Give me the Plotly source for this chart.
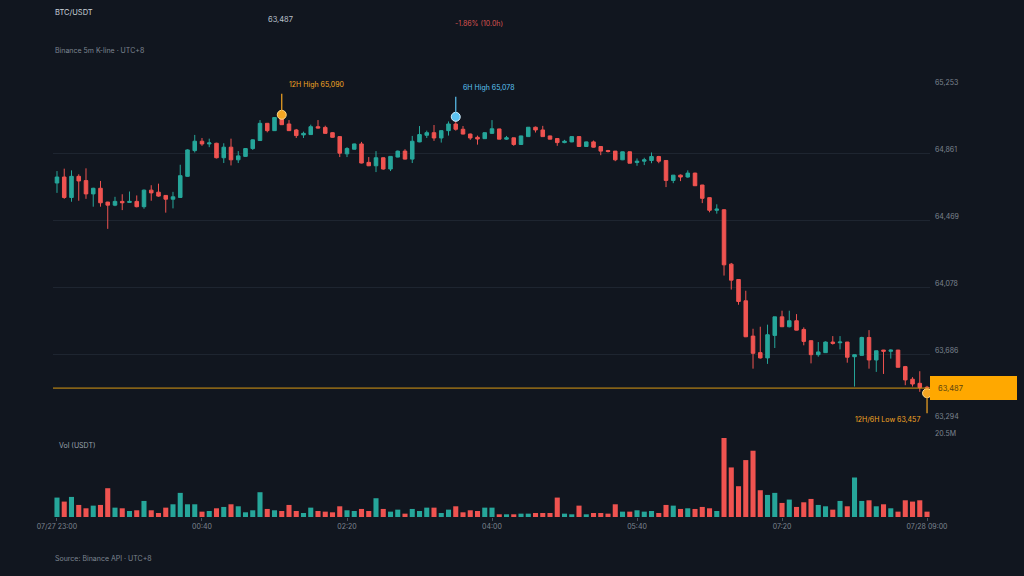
import pandas as pd
import plotly.graph_objects as go

# ---------------- data (5m candles, UTC+8) ----------------
start_time = "2024-07-27 23:00"
n_candles = 121

opens = [64690, 64725, 64605, 64729, 64704, 64626, 64659, 64578, 64560, 64582,
         64576, 64582, 64551, 64648, 64636, 64617, 64595, 64605, 64729, 64880,
         64935, 64919, 64923, 64838, 64900, 64826, 64846, 64892, 64939, 65040,
         64997, 65071, 65036, 65001, 64972, 64974, 65020, 65016, 64985, 64962,
         64861, 64888, 64919, 64811, 64791, 64838, 64772, 64842, 64877, 64830,
         64931, 64970, 64985, 64954, 64997, 65036, 65005, 64977, 64958, 64950,
         64981, 65007, 64947, 64955, 64916, 64962, 65017, 65001, 64966, 64951,
         64927, 64931, 64962, 64904, 64931, 64904, 64880, 64877, 64826, 64873,
         64810, 64818, 64822, 64845, 64822, 64705, 64736, 64725, 64748, 64678,
         64604, 64530, 64533, 64214, 64124, 63999, 63792, 63695, 63664, 63796,
         63905, 63847, 63882, 63831, 63765, 63683, 63695, 63757, 63753, 63757,
         63671, 63679, 63784, 63652, 63710, 63703, 63710, 63613, 63539, 63515,
         63492]
highs = [64760, 64774, 64764, 64741, 64776, 64662, 64702, 64580, 64609, 64624,
         64640, 64617, 64652, 64677, 64686, 64619, 64638, 64797, 64888, 64972,
         64954, 64950, 64926, 64923, 64950, 64877, 64894, 64946, 65059, 65042,
         65076, 65090, 65059, 65007, 64991, 65032, 65059, 65026, 64987, 64964,
         64900, 64921, 64931, 64842, 64877, 64840, 64847, 64880, 64888, 64966,
         65024, 64997, 65030, 64999, 65051, 65078, 65024, 64980, 64968, 64987,
         65059, 65008, 64966, 64956, 64967, 65018, 65021, 65025, 64967, 64952,
         64943, 64963, 64964, 64933, 64939, 64905, 64884, 64878, 64874, 64875,
         64834, 64838, 64869, 64849, 64824, 64737, 64740, 64764, 64750, 64679,
         64605, 64565, 64536, 64221, 64125, 64058, 63835, 63847, 63859, 63905,
         63941, 63941, 63921, 63843, 63766, 63757, 63761, 63792, 63792, 63758,
         63683, 63788, 63827, 63707, 63711, 63714, 63711, 63617, 63551, 63586,
         63500]
lows = [64632, 64597, 64580, 64586, 64597, 64551, 64551, 64421, 64554, 64531,
        64574, 64547, 64539, 64586, 64609, 64516, 64541, 64603, 64727, 64869,
        64908, 64900, 64834, 64807, 64793, 64807, 64844, 64884, 64937, 64987,
        64995, 65030, 64995, 64954, 64954, 64972, 65010, 64979, 64956, 64842,
        64842, 64886, 64805, 64789, 64754, 64768, 64760, 64840, 64828, 64807,
        64929, 64954, 64937, 64927, 64968, 64997, 64975, 64943, 64915, 64948,
        64979, 64947, 64943, 64908, 64914, 64960, 64986, 64961, 64946, 64908,
        64923, 64929, 64902, 64902, 64898, 64853, 64869, 64818, 64824, 64806,
        64791, 64795, 64806, 64806, 64666, 64689, 64701, 64721, 64673, 64572,
        64518, 64510, 64147, 64065, 63976, 63786, 63601, 63660, 63629, 63722,
        63845, 63843, 63826, 63738, 63632, 63671, 63694, 63742, 63714, 63636,
        63496, 63678, 63601, 63582, 63570, 63660, 63609, 63504, 63496, 63465,
        63457]
closes = [64725, 64605, 64729, 64702, 64626, 64659, 64574, 64560, 64582, 64574,
          64582, 64551, 64648, 64632, 64613, 64595, 64609, 64733, 64884, 64935,
          64919, 64925, 64838, 64900, 64826, 64849, 64892, 64943, 65040, 64997,
          65074, 65032, 64997, 64968, 64981, 65020, 65012, 64981, 64958, 64865,
          64892, 64919, 64807, 64791, 64838, 64772, 64846, 64877, 64830, 64935,
          64974, 64985, 64954, 64997, 65036, 65005, 64977, 64954, 64948, 64985,
          65008, 64947, 64955, 64916, 64966, 65017, 65001, 64962, 64947, 64927,
          64935, 64962, 64904, 64931, 64900, 64877, 64875, 64826, 64873, 64806,
          64818, 64826, 64845, 64818, 64705, 64736, 64725, 64748, 64674, 64600,
          64530, 64537, 64210, 64120, 63995, 63788, 63691, 63664, 63800, 63905,
          63847, 63882, 63827, 63761, 63683, 63699, 63757, 63749, 63757, 63668,
          63683, 63784, 63652, 63706, 63703, 63710, 63609, 63535, 63511, 63490,
          63487]
volumes_m = [5.04, 4.00, 5.21, 3.13, 2.26, 2.95, 3.13, 7.47, 2.43, 2.26,
             1.56, 1.74, 4.17, 1.74, 1.04, 2.43, 3.30, 6.26, 3.30, 3.30,
             1.39, 1.56, 2.26, 2.61, 3.30, 2.78, 1.22, 1.74, 6.43, 2.09,
             1.74, 1.56, 3.13, 1.56, 1.04, 2.43, 1.56, 1.39, 1.22, 2.78,
             1.74, 1.56, 2.09, 1.56, 4.87, 2.09, 1.39, 1.91, 0.87, 2.09,
             1.56, 2.43, 2.43, 1.04, 1.91, 2.78, 1.22, 1.74, 1.56, 2.43,
             2.43, 0.70, 0.70, 0.70, 0.87, 0.87, 1.04, 1.04, 1.04, 5.04,
             0.87, 0.70, 2.95, 0.70, 1.04, 1.04, 0.87, 3.30, 1.39, 1.39,
             1.74, 1.39, 1.56, 1.04, 3.13, 2.95, 2.09, 2.26, 2.09, 2.61,
             2.26, 1.56, 20.5, 12.86, 7.99, 14.77, 17.2, 6.95, 5.73, 6.26,
             3.65, 4.52, 2.61, 3.82, 4.69, 3.13, 2.78, 1.91, 4.17, 2.78,
             10.25, 4.17, 4.34, 2.78, 3.30, 2.26, 1.39, 4.34, 4.00, 4.34,
             1.39]

price_ticks = [63294, 63686, 64078, 64469, 64861, 65253]
price_tick_text = ["63,294", "63,686", "64,078", "64,469", "64,861", "65,253"]
vol_max_m = 20.5
x_tick_labels = ["07/27 23:00", "00:40", "02:20", "04:00", "05:40", "07:20", "07/28 09:00"]
x_tick_every = 20  # candles

high12_idx, high12_val = 31, 65090
high6_idx, high6_val = 55, 65078
low_idx, low_val = 120, 63457
last_price = 63487
change_text = "-1.86% (10.0h)"

# ---------------- styling ----------------
BG = "#11161f"
GRID = "#1e2530"
TXT = "#7d8590"
UP = "#26a69a"
DOWN = "#ef5350"
ORANGE = "#f5a623"
BLUE = "#5cc2f2"
FONT = "Inter"
W, H = 1024, 576

times = pd.date_range(start_time, periods=n_candles, freq="5min")
step = pd.Timedelta(minutes=5)
vol_colors = [UP if c >= o else DOWN for o, c in zip(opens, closes)]
volumes = [v * 1e6 for v in volumes_m]


def px_x(p):
    return p / W


def px_y(p):
    return 1 - p / H


fig = go.Figure()
fig.add_trace(go.Candlestick(
    x=times, open=opens, high=highs, low=lows, close=closes,
    increasing=dict(line=dict(color=UP, width=1), fillcolor=UP),
    decreasing=dict(line=dict(color=DOWN, width=1), fillcolor=DOWN),
    whiskerwidth=0, hoverinfo="skip", xaxis="x", yaxis="y", showlegend=False,
))
fig.add_trace(go.Bar(
    x=times, y=volumes, marker=dict(color=vol_colors, line=dict(width=0)),
    hoverinfo="skip", xaxis="x2", yaxis="y2", showlegend=False,
))
# extreme markers
fig.add_trace(go.Scatter(
    x=[times[high12_idx], times[low_idx]], y=[high12_val, low_val], mode="markers",
    marker=dict(color=ORANGE, size=9, line=dict(color="#ffd98a", width=1)),
    hoverinfo="skip", showlegend=False, xaxis="x", yaxis="y", cliponaxis=False,
))
fig.add_trace(go.Scatter(
    x=[times[high6_idx]], y=[high6_val], mode="markers",
    marker=dict(color=BLUE, size=9, line=dict(color="#d8f1ff", width=1)),
    hoverinfo="skip", showlegend=False, xaxis="x", yaxis="y", cliponaxis=False,
))

x_range = [times[0] - 0.55 * step, times[-1] + 0.41 * step]
tick_vals = [times[i] for i in range(0, n_candles, x_tick_every)]

fig.update_layout(
    width=W, height=H,
    paper_bgcolor=BG, plot_bgcolor=BG,
    margin=dict(l=0, r=0, t=0, b=0, autoexpand=False),
    font=dict(family=FONT, size=7, color=TXT),
    bargap=0.3, boxgap=0.3,
    xaxis=dict(domain=[px_x(53), px_x(930)], range=x_range, anchor="y",
               showticklabels=False, showgrid=False, zeroline=False, automargin=False,
               rangeslider=dict(visible=False), matches="x2"),
    yaxis=dict(domain=[px_y(421), px_y(87)], range=[price_ticks[0], price_ticks[-1]],
               side="right", tickvals=price_ticks, ticktext=price_tick_text,
               showgrid=True, gridcolor=GRID, gridwidth=1, zeroline=False,
               ticks="", ticklabelstandoff=4, ticklabelshift=-4, automargin=False,
               tickfont=dict(size=7, color=TXT)),
    xaxis2=dict(domain=[px_x(53), px_x(930)], range=x_range, anchor="y2",
                tickvals=tick_vals, ticktext=x_tick_labels, showgrid=False,
                zeroline=False, ticks="outside", ticklen=3, tickcolor="#4a525e",
                tickfont=dict(size=7, color=TXT), showline=False, automargin=False),
    yaxis2=dict(domain=[px_y(517), px_y(438)], range=[0, vol_max_m * 1e6],
                side="right", tickvals=[vol_max_m * 1e6], ticktext=[f"{vol_max_m}M"],
                showgrid=True, gridcolor=GRID, zeroline=False, ticks="",
                ticklabelstandoff=4, ticklabelshift=-4, automargin=False,
                tickfont=dict(size=7, color=TXT)),
)

shapes = [
    # last price line
    dict(type="line", xref="paper", yref="y", x0=px_x(53), x1=px_x(930),
         y0=last_price, y1=last_price, line=dict(color="#d99a12", width=1)),
    # last price tag
    dict(type="rect", xref="paper", yref="y", ysizemode="pixel", yanchor=last_price,
         x0=px_x(930), x1=px_x(1017), y0=-12, y1=12, fillcolor="#ffa800",
         line=dict(width=0)),
    # stems
    dict(type="line", xref="x", yref="y", ysizemode="pixel", yanchor=high12_val,
         x0=times[high12_idx], x1=times[high12_idx], y0=0, y1=21,
         line=dict(color=ORANGE, width=1.2)),
    dict(type="line", xref="x", yref="y", ysizemode="pixel", yanchor=high6_val,
         x0=times[high6_idx], x1=times[high6_idx], y0=0, y1=20,
         line=dict(color=BLUE, width=1.2)),
    dict(type="line", xref="x", yref="y", ysizemode="pixel", yanchor=low_val,
         x0=times[low_idx], x1=times[low_idx], y0=0, y1=-20,
         line=dict(color=ORANGE, width=1.2)),
]
fig.update_layout(shapes=shapes)

ann = [
    dict(xref="paper", yref="paper", x=px_x(53), y=px_y(13), text="BTC/USDT",
         font=dict(size=7.5, color="#c9d1d9")),
    dict(xref="paper", yref="paper", x=px_x(266), y=px_y(19), text=f"{last_price:,}",
         font=dict(size=7.5, color="#b8c0ca")),
    dict(xref="paper", yref="paper", x=px_x(453), y=px_y(24), text=change_text,
         font=dict(size=7, color="#d9534f")),
    dict(xref="paper", yref="paper", x=px_x(53), y=px_y(51), text="Binance 5m K-line · UTC+8",
         font=dict(size=7, color=TXT)),
    dict(xref="paper", yref="paper", x=px_x(53), y=px_y(558), text="Source: Binance API · UTC+8",
         font=dict(size=7, color=TXT)),
    dict(xref="paper", yref="paper", x=px_x(57), y=px_y(445), text="Vol (USDT)",
         font=dict(size=7, color="#9aa3ad")),
    dict(xref="x", yref="y", x=times[high12_idx], y=high12_val, text=f"12H High {high12_val:,}",
         xshift=5, yshift=30, font=dict(size=7, color=ORANGE)),
    dict(xref="x", yref="y", x=times[high6_idx], y=high6_val, text=f"6H High {high6_val:,}",
         xshift=5, yshift=29, font=dict(size=7, color=BLUE)),
    dict(xref="x", yref="y", x=times[low_idx], y=low_val, text=f"12H/6H Low {low_val:,}",
         xshift=-5, yshift=-26, xanchor="right", font=dict(size=7, color=ORANGE)),
    dict(xref="paper", yref="y", x=px_x(936), y=last_price, text=f"{last_price:,}",
         font=dict(size=7.5, color="#5a4410")),
]
for a in ann:
    a.setdefault("xanchor", "left")
    a.setdefault("yanchor", "middle")
    a["showarrow"] = False
fig.update_layout(annotations=ann)

fig.write_html("out.html")
